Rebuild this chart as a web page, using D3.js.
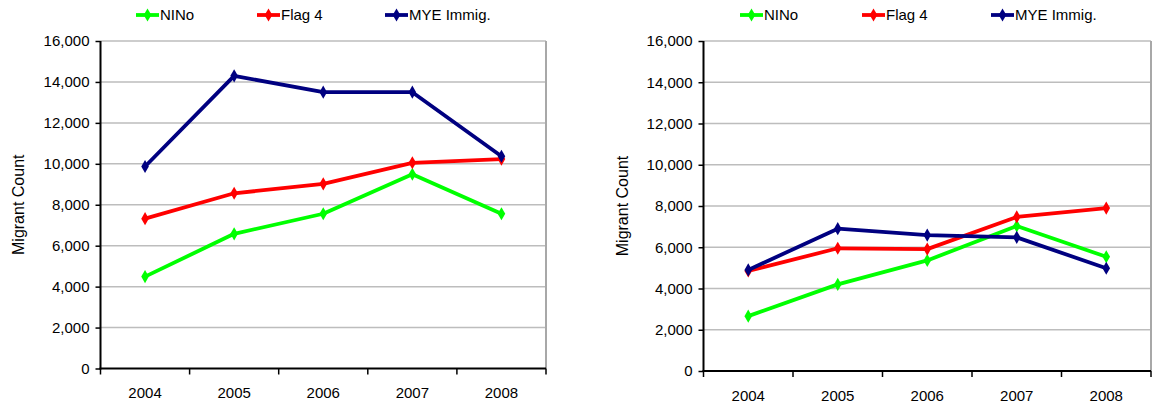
<!DOCTYPE html>
<html>
<head>
<meta charset="utf-8">
<script src="https://cdn.jsdelivr.net/npm/d3@7"></script>
<style>
  body { margin: 0; background: #fff; }
  svg { display: block; }
  text { font-family: "Liberation Sans", Arial, sans-serif; fill: #000; }
</style>
</head>
<body>
<svg id="chart" width="1152" height="406"></svg>
<script>
"use strict";

// données
var years = ["2004", "2005", "2006", "2007", "2008"]
var seriesNames = ["NINo", "Flag 4", "MYE Immig."]
var yTicks = [0, 2000, 4000, 6000, 8000, 10000, 12000, 14000, 16000]

// graphique de gauche
var leftNINo = [4490, 6580, 7560, 9490, 7560]
var leftFlag4 = [7320, 8560, 9020, 10050, 10230]
var leftMYE = [9870, 14300, 13500, 13500, 10370]

// graphique de droite
var rightNINo = [2660, 4200, 5360, 7030, 5540]
var rightFlag4 = [4850, 5950, 5910, 7470, 7900]
var rightMYE = [4900, 6900, 6590, 6480, 4980]

var colors = ["#00ff00", "#ff0000", "#000080"]

var svg = d3.select("#chart")

function drawChart(g, box, series) {
  var x = d3.scaleBand().domain(years).range([box.left, box.right])
  var y = d3.scaleLinear().domain([0, 16000]).range([box.bottom, box.top])

  // grille horizontale
  g.append("g")
    .selectAll("line")
    .data(yTicks.slice(1))
    .enter()
    .append("line")
      .attr("x1", box.left)
      .attr("x2", box.right)
      .attr("y1", function(d) { return y(d) })
      .attr("y2", function(d) { return y(d) })
      .style("stroke", "#bdbdbd")
      .style("stroke-width", 1.5)

  // bordure droite du plot
  g.append("line")
    .attr("x1", box.right).attr("x2", box.right)
    .attr("y1", box.top).attr("y2", box.bottom)
    .style("stroke", "#a8a8a8")
    .style("stroke-width", 2)

  // axe y
  var yAxis = g.append("g")
    .attr("transform", "translate(" + box.left + ",0)")
    .call(d3.axisLeft(y).tickValues(yTicks).tickSize(5).tickPadding(6).tickFormat(d3.format(",")))
  yAxis.select(".domain").remove()
  yAxis.selectAll(".tick line").style("stroke", "#000").style("stroke-width", 1.5)
  yAxis.selectAll("text").style("font-size", "15px").style("font-family", "Liberation Sans, Arial, sans-serif")
  g.append("line")
    .attr("x1", box.left).attr("x2", box.left)
    .attr("y1", box.top).attr("y2", box.bottom + 1)
    .style("stroke", "#000").style("stroke-width", 2)

  // axe x (ticks aux limites des catégories)
  var xAxis = g.append("g")
    .attr("transform", "translate(0," + box.bottom + ")")
    .call(d3.axisBottom(x).tickSize(0).tickPadding(19))
  xAxis.select(".domain").remove()
  xAxis.selectAll("text").style("font-size", "15px").style("font-family", "Liberation Sans, Arial, sans-serif")
  var bounds = years.map(function(d) { return x(d) }).concat([box.right])
  g.append("g")
    .selectAll("line")
    .data(bounds)
    .enter()
    .append("line")
      .attr("x1", function(d) { return d })
      .attr("x2", function(d) { return d })
      .attr("y1", box.bottom)
      .attr("y2", box.bottom + 6)
      .style("stroke", "#000").style("stroke-width", 1.5)
  g.append("line")
    .attr("x1", box.left - 1).attr("x2", box.right)
    .attr("y1", box.bottom).attr("y2", box.bottom)
    .style("stroke", "#000").style("stroke-width", 2)

  // titre de l'axe y
  g.append("text")
    .attr("transform", "translate(" + box.titleX + "," + ((box.top + box.bottom) / 2) + ") rotate(-90)")
    .attr("text-anchor", "middle")
    .attr("dy", "0.35em")
    .style("font-size", "16px")
    .text("Migrant Count")

  // lignes
  var line = d3.line()
    .x(function(d, i) { return x(years[i]) + x.bandwidth() / 2 })
    .y(function(d) { return y(d) })
  var diamond = d3.symbol().type(d3.symbolDiamond).size(50)

  series.forEach(function(values, k) {
    g.append("path")
      .datum(values)
      .attr("d", line)
      .style("fill", "none")
      .style("stroke", colors[k])
      .style("stroke-width", 3.8)
      .style("stroke-linejoin", "round")
    g.append("g")
      .selectAll("path")
      .data(values)
      .enter()
      .append("path")
        .attr("d", diamond)
        .attr("transform", function(d, i) {
          return "translate(" + (x(years[i]) + x.bandwidth() / 2) + "," + y(d) + ")"
        })
        .style("fill", colors[k])
  })

  // légende
  var legend = g.append("g")
    .selectAll("g")
    .data(seriesNames)
    .enter()
    .append("g")
      .attr("transform", function(d, i) {
        return "translate(" + box.legendX[i] + ",15)"
      })
  legend.append("line")
    .attr("x1", 0).attr("x2", 23)
    .style("stroke", function(d, i) { return colors[i] })
    .style("stroke-width", 3.8)
  legend.append("path")
    .attr("d", diamond)
    .attr("transform", "translate(11.5,0)")
    .style("fill", function(d, i) { return colors[i] })
  legend.append("text")
    .attr("x", 24)
    .attr("dy", "0.35em")
    .style("font-size", "15px")
    .text(function(d) { return d })
}

drawChart(svg.append("g"),
  { left: 100.5, right: 546, top: 41, bottom: 368.5, titleX: 18, legendX: [136, 257, 385] },
  [leftNINo, leftFlag4, leftMYE])

drawChart(svg.append("g"),
  { left: 703.5, right: 1151, top: 41, bottom: 371, titleX: 622, legendX: [740, 862, 991] },
  [rightNINo, rightFlag4, rightMYE])
</script>
</body>
</html>
